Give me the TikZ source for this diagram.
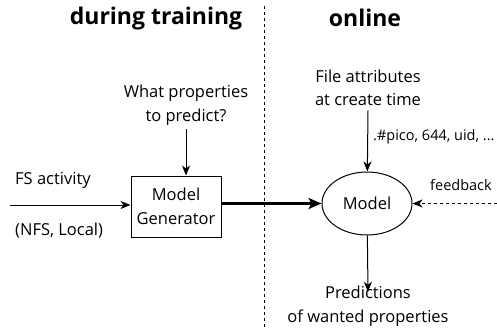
\documentclass[tikz,border=0pt]{standalone}
\usepackage{fontspec}
\setmainfont{Open Sans}
\usetikzlibrary{shapes.geometric,arrows.meta}

\begin{document}
\begin{tikzpicture}[x=1pt,y=-1pt,
    lbl/.style={align=center,font=\fontsize{16.5}{23.5}\selectfont,inner sep=0pt},
    sml/.style={inner sep=0pt,font=\fontsize{14.5}{16}\selectfont},
    ttl/.style={font=\fontsize{23}{27}\selectfont\bfseries,inner sep=0pt},
    arr/.style={-{Stealth[length=10pt,width=8pt,inset=3pt]},line width=1pt}]
        \useasboundingbox (0,0) rectangle (497,327);

        % Titles and the dividing line
        \node[ttl] (train) at (156,19) {during training};
        \node[ttl] (online) at (365,18) {online};
        \coordinate (divtop) at (264,6);
        \coordinate (divbot) at (264,327);
        \draw[dashed,line width=0.6pt] (divtop) -- (divbot);

        % Training side
        \node[lbl] (what) at (186,105) {What properties\\to predict?};
        \node[draw,lbl,line width=1pt,minimum width=90pt,minimum height=61pt] (gen) at (176,206.5) {Model\\Generator};
        \draw[arr] ([yshift=-4pt]what.south) -- (what.south |- gen.north);

        \node[lbl,anchor=west] (fs) at (15,180) {FS activity};
        \node[lbl,anchor=west] (nfs) at (15,231) {(NFS, Local)};
        \coordinate (fsin) at (10,205);
        \draw[arr] (fsin) -- (fsin -| gen.west);

        % Online side
        \node[draw,ellipse,lbl,line width=1pt,minimum width=90pt,minimum height=63pt] (model) at (367,203.5) {Model};
        \draw[-{Stealth[length=13pt,width=11pt,inset=3pt]},line width=3pt] (gen.east |- model) -- (model.west);

        \node[lbl] (attr) at (368,88) {File attributes\\at create time};
        \draw[arr] ([yshift=-4pt]attr.south) -- (model);
        \node[sml,anchor=west] (pico) at (373,137) {.\#pico, 644, uid, ...};

        \node[sml,anchor=west] (fb) at (430,185) {feedback};
        \coordinate (fbin) at (497,203.5);
        \draw[arr,dashed] (fbin) -- (model.east);

        \node[lbl] (pred) at (368,306) {Predictions\\of wanted properties};
        \draw[arr] (model) -- ([yshift=-6pt]pred.north);
    \end{tikzpicture}
\end{document}
